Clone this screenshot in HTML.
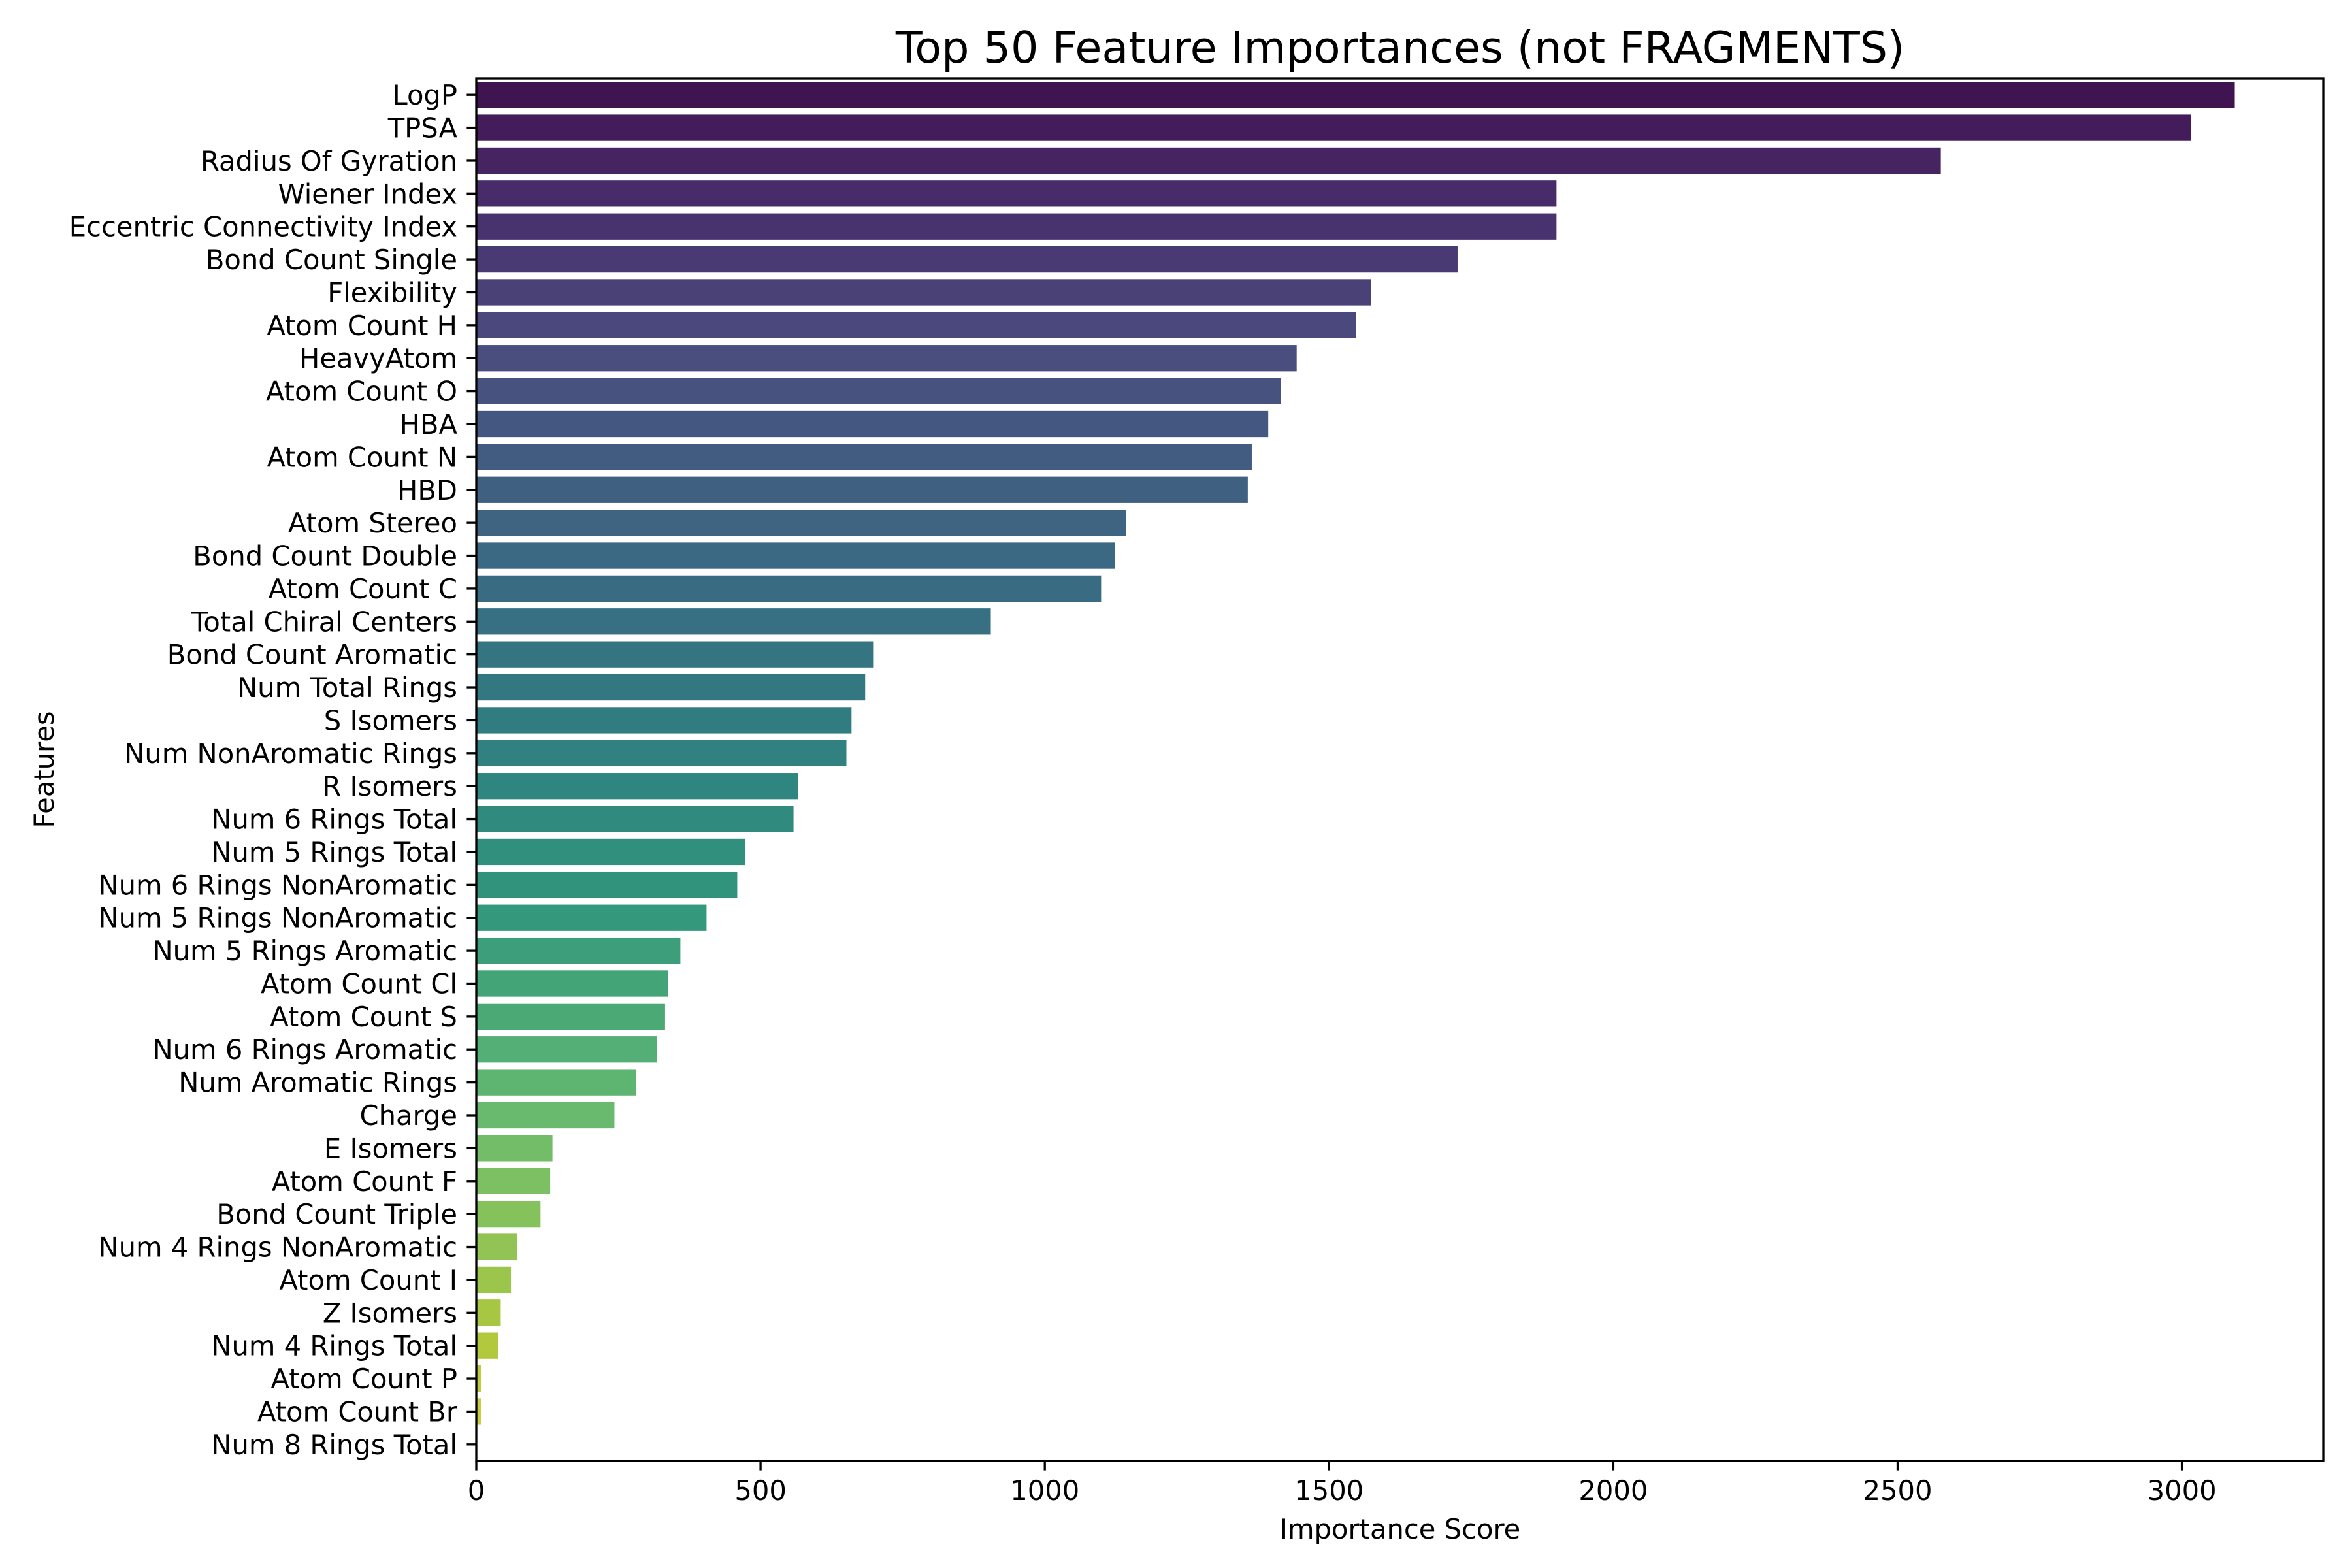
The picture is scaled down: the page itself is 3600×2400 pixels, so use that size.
<!DOCTYPE html>
<html><head><meta charset="utf-8"><style>
html,body{margin:0;padding:0;background:#fff;}
svg{display:block;font-family:"DejaVu Sans","Liberation Sans",sans-serif;}
</style></head><body>
<svg id="chart" width="3600" height="2400" viewBox="0 0 3600 2400" xmlns="http://www.w3.org/2000/svg">
<rect width="3600" height="2400" fill="#fff"/>
<text x="2143" y="96" font-size="66.7" text-anchor="middle" fill="#000">Top 50 Feature Importances (not FRAGMENTS)</text>
<g id="bars"></g>
<g id="yticks"></g>
<g id="xticks"></g>
<rect x="729" y="120" width="2827" height="2116" fill="none" stroke="#000" stroke-width="3.33"/>
<text x="2143" y="2355" font-size="41.67" text-anchor="middle" fill="#000">Importance Score</text>
<text transform="translate(82,1178) rotate(-90)" font-size="41.67" text-anchor="middle" fill="#000">Features</text>
</svg>
<script>
const categories = ["LogP","TPSA","Radius Of Gyration","Wiener Index","Eccentric Connectivity Index","Bond Count Single","Flexibility","Atom Count H","HeavyAtom","Atom Count O","HBA","Atom Count N","HBD","Atom Stereo","Bond Count Double","Atom Count C","Total Chiral Centers","Bond Count Aromatic","Num Total Rings","S Isomers","Num NonAromatic Rings","R Isomers","Num 6 Rings Total","Num 5 Rings Total","Num 6 Rings NonAromatic","Num 5 Rings NonAromatic","Num 5 Rings Aromatic","Atom Count Cl","Atom Count S","Num 6 Rings Aromatic","Num Aromatic Rings","Charge","E Isomers","Atom Count F","Bond Count Triple","Num 4 Rings NonAromatic","Atom Count I","Z Isomers","Num 4 Rings Total","Atom Count P","Atom Count Br","Num 8 Rings Total"];
const values = [3093,3016,2576,1900,1900,1726,1574,1547,1443,1415,1393,1364,1357,1143,1123,1099,905,698,684,660,651,566,558,473,459,405,359,337,332,318,281,243,134,130,113,72,61,43,38,8,8,0];
const xTicks = [0,500,1000,1500,2000,2500,3000];
const xTickLabels = ["0","500","1000","1500","2000","2500","3000"];

const NS="http://www.w3.org/2000/svg";
const L=729,R=3556,T=120,B=2236;
const slot=(B-T)/categories.length;
function xs(v){return L+v*0.8702;}
function ys(i){return T+slot/2+i*slot;}
const vstops=["#440154","#482475","#414487","#355f8d","#2a788e","#21918c","#22a884","#44bf70","#7ad151","#bddf26","#fde725"];
function hex2rgb(h){return [1,3,5].map(i=>parseInt(h.substr(i,2),16)/255);}
function viridis(t){const p=t*10,i=Math.min(9,Math.floor(p)),f=p-i;const a=hex2rgb(vstops[i]),b=hex2rgb(vstops[i+1]);return a.map((c,k)=>c+(b[k]-c)*f);}
function desat([r,g,b],s){const mx=Math.max(r,g,b),mn=Math.min(r,g,b),l=(mx+mn)/2;let h=0,sat=0;if(mx!==mn){const d=mx-mn;sat=l>0.5?d/(2-mx-mn):d/(mx+mn);if(mx===r)h=((g-b)/d+(g<b?6:0));else if(mx===g)h=(b-r)/d+2;else h=(r-g)/d+4;h/=6;}sat*=s;
function hue(p,q,t){if(t<0)t+=1;if(t>1)t-=1;if(t<1/6)return p+(q-p)*6*t;if(t<1/2)return q;if(t<2/3)return p+(q-p)*(2/3-t)*6;return p;}
if(sat===0)return [l,l,l];const q=l<0.5?l*(1+sat):l+sat-l*sat,p=2*l-q;return [hue(p,q,h+1/3),hue(p,q,h),hue(p,q,h-1/3)];}
function css(c){return "rgb("+c.map(v=>Math.round(v*255)).join(",")+")";}
const gb=document.getElementById("bars"),gy=document.getElementById("yticks"),gx=document.getElementById("xticks");
const n=categories.length;
categories.forEach((c,i)=>{
  const y=ys(i);
  const col=css(desat(viridis((i+1)/(n+1)),0.75));
  const bh=slot*0.8;
  const r=document.createElementNS(NS,"rect");
  r.setAttribute("x",L);r.setAttribute("y",y-bh/2);
  r.setAttribute("width",Math.max(0,xs(values[i])-L));r.setAttribute("height",bh);
  r.setAttribute("fill",col);
  
  
  gb.appendChild(r);
  const tk=document.createElementNS(NS,"line");
  tk.setAttribute("x1",L-14.6);tk.setAttribute("x2",L);tk.setAttribute("y1",y);tk.setAttribute("y2",y);
  tk.setAttribute("stroke","#000");tk.setAttribute("stroke-width","3.33");
  
  
  gy.appendChild(tk);
  const t=document.createElementNS(NS,"text");
  t.setAttribute("x",L-29);t.setAttribute("y",y+15);
  t.setAttribute("font-size","41.67");t.setAttribute("text-anchor","end");
  t.textContent=c;
  
  
  gy.appendChild(t);
});
xTicks.forEach((v,i)=>{
  const x=xs(v);
  const tk=document.createElementNS(NS,"line");
  tk.setAttribute("x1",x);tk.setAttribute("x2",x);tk.setAttribute("y1",B);tk.setAttribute("y2",B+14.6);
  tk.setAttribute("stroke","#000");tk.setAttribute("stroke-width","3.33");
  
  
  gx.appendChild(tk);
  const t=document.createElementNS(NS,"text");
  t.setAttribute("x",x);t.setAttribute("y",B+29+31);
  t.setAttribute("font-size","41.67");t.setAttribute("text-anchor","middle");
  t.textContent=xTickLabels[i];
  
  
  gx.appendChild(t);
});
</script>
</body></html>
